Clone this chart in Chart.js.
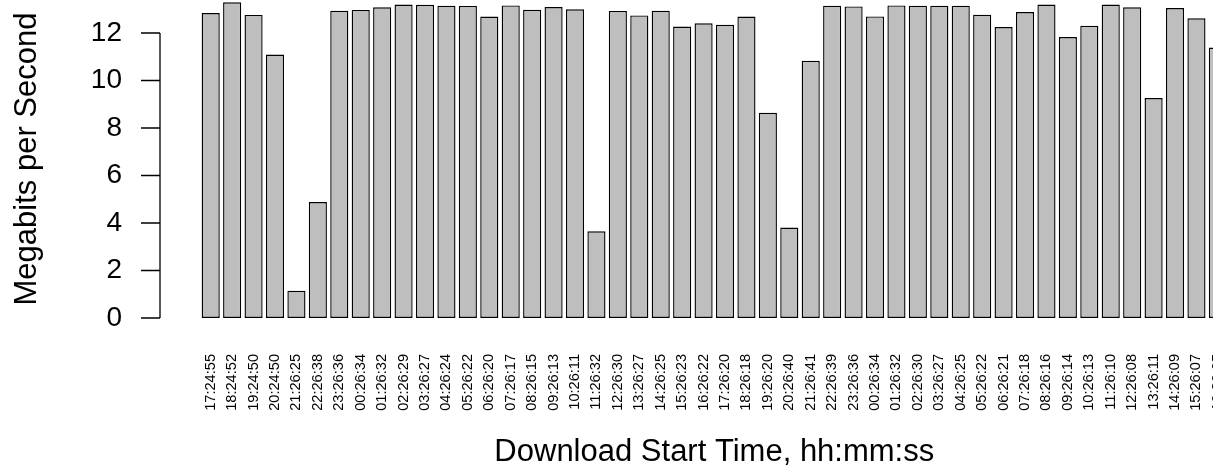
<!DOCTYPE html>
<html>
<head>
<meta charset="utf-8">
<script src="https://cdn.jsdelivr.net/npm/chart.js@4/dist/chart.umd.min.js"></script>
<style>
  html, body { margin: 0; padding: 0; background: #fff; overflow: hidden; }
  #wrap { width: 1213px; height: 472px; overflow: hidden; }
</style>
</head>
<body>
<div id="wrap"><canvas id="chart" width="1240" height="472"></canvas></div>
<script>
// download start times (x categories)
const startTimes = [
  '17:24:55', '18:24:52', '19:24:50', '20:24:50', '21:26:25', '22:26:38',
  '23:26:36', '00:26:34', '01:26:32', '02:26:29', '03:26:27', '04:26:24',
  '05:26:22', '06:26:20', '07:26:17', '08:26:15', '09:26:13', '10:26:11',
  '11:26:32', '12:26:30', '13:26:27', '14:26:25', '15:26:23', '16:26:22',
  '17:26:20', '18:26:18', '19:26:20', '20:26:40', '21:26:41', '22:26:39',
  '23:26:36', '00:26:34', '01:26:32', '02:26:30', '03:26:27', '04:26:25',
  '05:26:22', '06:26:21', '07:26:18', '08:26:16', '09:26:14', '10:26:13',
  '11:26:10', '12:26:08', '13:26:11', '14:26:09', '15:26:07', '16:26:05'
];

// download speed, Mbit/s
const mbps = [
  12.84, 13.29, 12.76, 11.09, 1.15, 4.88,
  12.94, 12.97, 13.08, 13.20, 13.19, 13.15,
  13.14, 12.69, 13.16, 12.98, 13.09, 13.00,
  3.65, 12.93, 12.74, 12.94, 12.27, 12.41,
  12.35, 12.69, 8.64, 3.81, 10.83, 13.15,
  13.12, 12.70, 13.16, 13.15, 13.15, 13.15,
  12.77, 12.25, 12.88, 13.20, 11.83, 12.31,
  13.20, 13.08, 9.26, 13.05, 12.62, 11.39
];

const yTicks = [0, 2, 4, 6, 8, 10, 12];

const FONT = '"Liberation Sans", Arial, Helvetica, sans-serif';

// R style y axis: line only spans the tick range, set off from the bars
const rAxis = {
  id: 'rAxis',
  afterDraw(chart) {
    const y = chart.scales.y;
    const ctx = chart.ctx;
    const x0 = chart.chartArea.left - 40;
    ctx.save();
    ctx.strokeStyle = '#000';
    ctx.lineWidth = 1.3;
    ctx.beginPath();
    ctx.moveTo(x0, y.getPixelForValue(yTicks[0]));
    ctx.lineTo(x0, y.getPixelForValue(yTicks[yTicks.length - 1]));
    yTicks.forEach(v => {
      const py = y.getPixelForValue(v);
      ctx.moveTo(x0, py);
      ctx.lineTo(x0 - 19, py);
    });
    ctx.stroke();
    ctx.restore();
  }
};

// keep label padding from pushing the plot area around
function noPad(scale) {
  scale.paddingTop = 0;
  scale.paddingBottom = 0;
  scale.paddingLeft = 0;
  scale.paddingRight = 0;
}

new Chart(document.getElementById('chart'), {
  type: 'bar',
  data: {
    labels: startTimes,
    datasets: [{
      data: mbps,
      backgroundColor: '#bebebe',
      borderColor: '#000',
      borderWidth: 1.4,
      borderSkipped: false,
      barPercentage: 0.845,
      categoryPercentage: 1
    }]
  },
  options: {
    responsive: false,
    animation: false,
    layout: { padding: { top: 0, right: 11.4, bottom: 0, left: 0 } },
    plugins: { legend: { display: false }, tooltip: { enabled: false } },
    scales: {
      x: {
        grid: { display: false, drawTicks: false },
        border: { display: false },
        afterFit(scale) { scale.height = 154; noPad(scale); },
        ticks: {
          autoSkip: false,
          maxRotation: 90,
          minRotation: 90,
          padding: 36,
          color: '#000',
          font: { family: FONT, size: 14.6 }
        },
        title: {
          display: true,
          text: 'Download Start Time, hh:mm:ss',
          color: '#000',
          font: { family: FONT, size: 31 },
          padding: { top: 0, bottom: 1 }
        }
      },
      y: {
        min: 0,
        max: 13.39,
        grid: { display: false, drawTicks: false },
        border: { display: false },
        afterFit(scale) { scale.width = 200; noPad(scale); },
        afterBuildTicks(scale) { scale.ticks = yTicks.map(v => ({ value: v })); },
        ticks: {
          padding: 78,
          color: '#000',
          font: { family: FONT, size: 28 }
        },
        title: {
          display: true,
          text: 'Megabits per Second',
          color: '#000',
          font: { family: FONT, size: 31 },
          padding: { top: 9, bottom: 0 }
        }
      }
    }
  },
  plugins: [rAxis]
});
</script>
</body>
</html>
